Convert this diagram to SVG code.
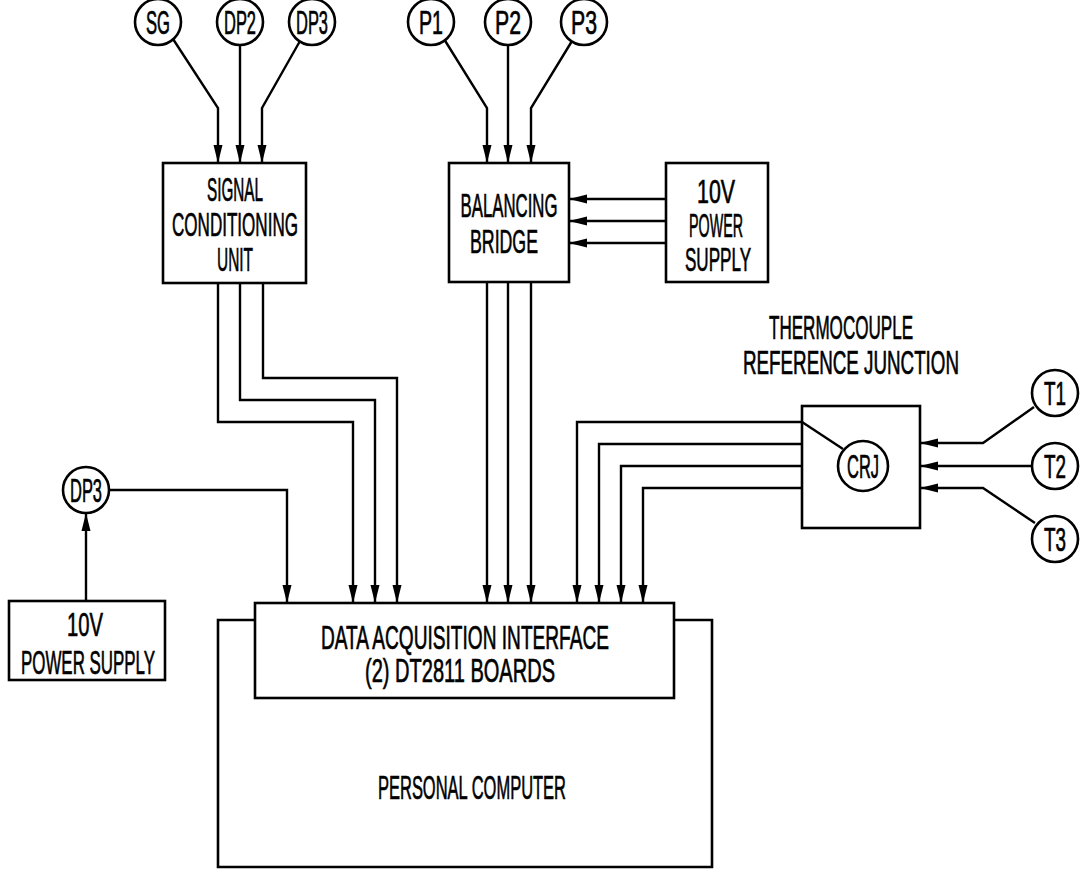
<svg xmlns="http://www.w3.org/2000/svg" width="1088" height="869" viewBox="0 0 1088 869">
<style>
.b{fill:#fff;stroke:#000;stroke-width:2.6}
.c{fill:none;stroke:#000;stroke-width:2.6}
.w{fill:none;stroke:#000;stroke-width:2.4}
.t{font-family:"Liberation Sans Narrow","Liberation Sans",sans-serif;font-size:34px;fill:#000;stroke:#000;stroke-width:0.7;text-anchor:middle}
.s{font-size:33px}
</style>
<defs>
<marker id="a" markerUnits="userSpaceOnUse" markerWidth="18" markerHeight="10" viewBox="0 0 18 10" refX="18" refY="5" orient="auto">
<path d="M0,0.5 L18,5 L0,9.5 z" fill="#000"/>
</marker>
</defs>
<rect width="1088" height="869" fill="#fff"/>
<g id="connectors">
<path class="w" d="M173,39 L218,108 L218,163" marker-end="url(#a)"/>
<path class="w" d="M240,45 L240,163" marker-end="url(#a)"/>
<path class="w" d="M300,41 L262,108 L262,163" marker-end="url(#a)"/>
<path class="w" d="M444,39 L487,108 L487,163" marker-end="url(#a)"/>
<path class="w" d="M508,45 L508,163" marker-end="url(#a)"/>
<path class="w" d="M572,41 L531,108 L531,163" marker-end="url(#a)"/>
<path class="w" d="M666,199 L569,199" marker-end="url(#a)"/>
<path class="w" d="M666,221 L569,221" marker-end="url(#a)"/>
<path class="w" d="M666,243 L569,243" marker-end="url(#a)"/>
<path class="w" d="M218,283 L218,422 L353,422 L353,603" marker-end="url(#a)"/>
<path class="w" d="M240,283 L240,400 L375,400 L375,603" marker-end="url(#a)"/>
<path class="w" d="M263,283 L263,378 L397,378 L397,603" marker-end="url(#a)"/>
<path class="w" d="M487,282 L487,603" marker-end="url(#a)"/>
<path class="w" d="M508,282 L508,603" marker-end="url(#a)"/>
<path class="w" d="M531,282 L531,603" marker-end="url(#a)"/>
<path class="w" d="M843,449 L802,422 L577,422 L577,603" marker-end="url(#a)"/>
<path class="w" d="M802,444 L599,444 L599,603" marker-end="url(#a)"/>
<path class="w" d="M802,466 L621,466 L621,603" marker-end="url(#a)"/>
<path class="w" d="M802,488 L643,488 L643,603" marker-end="url(#a)"/>
<path class="w" d="M1034,407 L983,443 L920,443" marker-end="url(#a)"/>
<path class="w" d="M1032,466 L920,466" marker-end="url(#a)"/>
<path class="w" d="M1035,523 L983,488 L920,488" marker-end="url(#a)"/>
<path class="w" d="M109,490 L287,490 L287,603" marker-end="url(#a)"/>
<path class="w" d="M86,601 L86,513" marker-end="url(#a)"/>
</g>
<g id="sg"><circle class="b" cx="158" cy="22" r="23"/><text class="t s" x="158" y="34" textLength="24" lengthAdjust="spacingAndGlyphs">SG</text></g>
<g id="dp2"><circle class="b" cx="240" cy="22" r="23"/><text class="t s" x="240" y="34" textLength="32" lengthAdjust="spacingAndGlyphs">DP2</text></g>
<g id="dp3"><circle class="b" cx="312" cy="22" r="23"/><text class="t s" x="312" y="34" textLength="32" lengthAdjust="spacingAndGlyphs">DP3</text></g>
<g id="p1"><circle class="b" cx="431" cy="22" r="23"/><text class="t s" x="431" y="34" textLength="24" lengthAdjust="spacingAndGlyphs">P1</text></g>
<g id="p2"><circle class="b" cx="508" cy="22" r="23"/><text class="t s" x="508" y="34" textLength="26" lengthAdjust="spacingAndGlyphs">P2</text></g>
<g id="p3"><circle class="b" cx="584" cy="22" r="23"/><text class="t s" x="584" y="34" textLength="26" lengthAdjust="spacingAndGlyphs">P3</text></g>
<g id="signal-conditioning"><rect class="b" x="163" y="163" width="143" height="120"/>
<text class="t" x="235" y="201" textLength="56" lengthAdjust="spacingAndGlyphs">SIGNAL</text>
<text class="t" x="235" y="236" textLength="126" lengthAdjust="spacingAndGlyphs">CONDITIONING</text>
<text class="t" x="235" y="271" textLength="36" lengthAdjust="spacingAndGlyphs">UNIT</text></g>
<g id="balancing-bridge"><rect class="b" x="449" y="163" width="120" height="119"/>
<text class="t" x="509" y="217" textLength="97" lengthAdjust="spacingAndGlyphs">BALANCING</text>
<text class="t" x="504" y="253" textLength="68" lengthAdjust="spacingAndGlyphs">BRIDGE</text></g>
<g id="power-supply-top"><rect class="b" x="666" y="163" width="102" height="119"/>
<text class="t" x="716" y="203" textLength="38" lengthAdjust="spacingAndGlyphs">10V</text>
<text class="t" x="716" y="237" textLength="54" lengthAdjust="spacingAndGlyphs">POWER</text>
<text class="t" x="718" y="271" textLength="66" lengthAdjust="spacingAndGlyphs">SUPPLY</text></g>
<g id="thermocouple-label">
<text class="t" x="841" y="339" textLength="144" lengthAdjust="spacingAndGlyphs">THERMOCOUPLE</text>
<text class="t" x="851" y="374" textLength="216" lengthAdjust="spacingAndGlyphs">REFERENCE JUNCTION</text></g>
<g id="crj-box"><rect class="b" x="802" y="406" width="118" height="122"/>
<path class="w" d="M802,422 L843,449"/>
<circle class="b" cx="863" cy="466" r="25"/><text class="t s" x="863" y="478" textLength="32" lengthAdjust="spacingAndGlyphs">CRJ</text></g>
<g id="t1"><circle class="b" cx="1055" cy="393" r="23"/><text class="t s" x="1055" y="405" textLength="22" lengthAdjust="spacingAndGlyphs">T1</text></g>
<g id="t2"><circle class="b" cx="1055" cy="466" r="23"/><text class="t s" x="1055" y="478" textLength="22" lengthAdjust="spacingAndGlyphs">T2</text></g>
<g id="t3"><circle class="b" cx="1055" cy="539" r="23"/><text class="t s" x="1055" y="551" textLength="22" lengthAdjust="spacingAndGlyphs">T3</text></g>
<g id="dp3-low"><circle class="b" cx="86" cy="490" r="23"/><text class="t s" x="86" y="502" textLength="32" lengthAdjust="spacingAndGlyphs">DP3</text></g>
<g id="power-supply-low"><rect class="b" x="9" y="601" width="156" height="79"/>
<text class="t" x="85" y="636" textLength="36" lengthAdjust="spacingAndGlyphs">10V</text>
<text class="t" x="88" y="674" textLength="134" lengthAdjust="spacingAndGlyphs">POWER SUPPLY</text></g>
<g id="personal-computer"><path class="c" d="M255,620 L218,620 L218,867 L712,867 L712,620 L674,620"/>
<text class="t" x="472" y="799" textLength="188" lengthAdjust="spacingAndGlyphs">PERSONAL COMPUTER</text></g>
<g id="daq"><rect class="b" x="255" y="603" width="419" height="95"/>
<text class="t" x="465" y="649" textLength="288" lengthAdjust="spacingAndGlyphs">DATA ACQUISITION INTERFACE</text>
<text class="t" x="460" y="682" textLength="190" lengthAdjust="spacingAndGlyphs">(2) DT2811 BOARDS</text></g>
</svg>
